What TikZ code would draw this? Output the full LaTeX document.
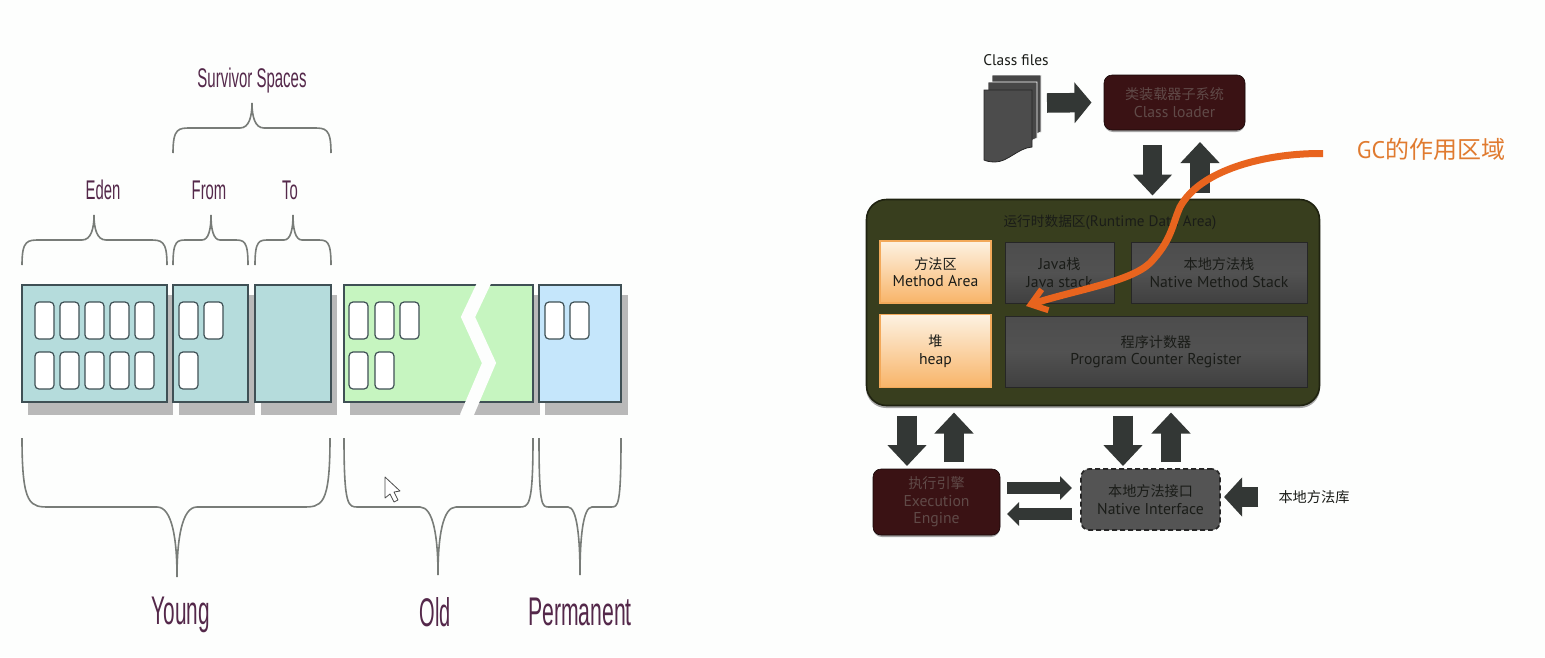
\documentclass[tikz,border=0pt]{standalone}
\usepackage{fontspec}
\usepackage{graphicx}
\setmainfont{PT Sans}
\newfontfamily\arialf{Liberation Sans}
\newfontfamily\cjk[Scale=0.9]{Noto Sans CJK SC}
\newfontfamily\cjkfull{Noto Sans CJK SC}
\usetikzlibrary{arrows.meta,calc}
\definecolor{bgc}{HTML}{FDFEFD}
\definecolor{teal}{HTML}{B5DCDC}
\definecolor{greenf}{HTML}{C6F5C0}
\definecolor{bluef}{HTML}{C5E6FB}
\definecolor{shadowc}{HTML}{B9B9B9}
\definecolor{edgec}{HTML}{3F5055}
\definecolor{plum}{HTML}{54284A}
\definecolor{bracec}{HTML}{787C78}
\definecolor{blockc}{HTML}{333735}
\definecolor{maroon}{HTML}{3A1214}
\definecolor{dimtext}{HTML}{604A48}
\definecolor{olivef}{HTML}{383E1E}
\definecolor{orangec}{HTML}{E8641E}
\definecolor{orangetext}{HTML}{E07B30}
\definecolor{darktext}{HTML}{1A1C18}
\definecolor{peachtop}{HTML}{FDF2E2}
\definecolor{peachbot}{HTML}{F8B468}
\definecolor{peachedge}{HTML}{F2A95A}
\newcommand\mybrace[8]{%
  \draw[bracestyle] (#1,#4) .. controls (#1,#5) and ({#1+0.3*#7},#5) .. ({#1+#7},#5)
    -- ({#3-#8},#5) .. controls ({#3-0.25*#8},#5) and (#3,{#5+0.45*(#6-#5)}) .. (#3,#6)
    .. controls (#3,{#5+0.45*(#6-#5)}) and ({#3+0.25*#8},#5) .. ({#3+#8},#5)
    -- ({#2-#7},#5) .. controls ({#2-0.3*#7},#5) and (#2,#5) .. (#2,#4);}
\newcommand\memcell[2]{\draw[cellbox] (#1,#2) rectangle ++(19,37);}
\tikzset{
  bracestyle/.style={draw=bracec,line width=1.6pt},
  cellbox/.style={draw=edgec,fill=white,line width=1.2pt,rounded corners=4pt},
  genbox/.style={draw=edgec,line width=1.3pt},
  shadowbox/.style={fill=shadowc},
  softshade/.style={fill=black!35,rounded corners=#1},
  biglabel/.style={text=plum,font=\arialf\fontsize{40}{44}\selectfont,inner sep=0pt},
  smalllabel/.style={text=plum,font=\arialf\fontsize{27}{30}\selectfont,inner sep=0pt},
  blockarrow/.style={draw=blockc,line width=19.5pt,-{Triangle[length=21pt,width=38pt]}},
  thinarrow/.style={draw=blockc,line width=12pt,-{Triangle[length=12pt,width=23pt]}},
  hwbox/.style={align=center,inner sep=0pt,outer sep=0pt,font=\fontsize{15.7}{17.5}\selectfont},
  orangebox/.style={hwbox,draw=peachedge,line width=1.5pt,top color=peachtop,bottom color=peachbot,text=darktext},
  greybox/.style={hwbox,draw=black!85,line width=1pt,top color=black!70,bottom color=black!75,middle color=black!68,text=darktext},
  maroonbox/.style={hwbox,fill=maroon,text=dimtext,rounded corners=8pt,draw=black!60!maroon,line width=.6pt},
}
\begin{document}
\begin{tikzpicture}[x=1pt,y=-1pt]
\useasboundingbox (0,0) rectangle (1545,657);
\fill[bgc] (0,0) rectangle (1545,657);
% shadows
\fill[shadowbox] (28,295) rectangle (173,415);
\fill[shadowbox] (179,295) rectangle (255,415);
\fill[shadowbox] (261,295) rectangle (337,415);
\fill[shadowbox] (350,295) rectangle (540,415);
\fill[shadowbox] (545,295) rectangle (628,415);
% generation boxes
\draw[genbox,fill=teal] (22,285) rectangle (167,402);
\draw[genbox,fill=teal] (173,285) rectangle (248,402);
\draw[genbox,fill=teal] (255,285) rectangle (331,402);
\draw[genbox,fill=greenf] (344,285) rectangle (533,402);
\draw[genbox,fill=bluef] (539,285) rectangle (621,402);
% cells
\foreach \cx in {35,60,85,110,135}{\memcell{\cx}{302}\memcell{\cx}{352}}
\memcell{179}{302}\memcell{204}{302}\memcell{179}{352}
\memcell{349}{302}\memcell{375}{302}\memcell{400}{302}\memcell{349}{352}\memcell{375}{352}
\memcell{545}{302}\memcell{570}{302}
% break in old
\draw[bgc,line width=13pt,line join=miter] (485,281) -- (468,317) -- (489,363) -- (466,417);
% braces
\mybrace{22}{167}{94}{265}{240}{215}{18}{12}
\mybrace{173}{248}{211}{265}{240}{215}{14}{9}
\mybrace{255}{331}{293}{265}{240}{215}{14}{9}
\mybrace{173}{331}{252}{153}{128}{103}{18}{12}
\mybrace{22}{330}{177}{438}{507}{577}{28}{20}
\mybrace{344}{533}{438}{438}{507}{575}{14}{18}
\mybrace{539}{621}{580}{438}{507}{575}{10}{12}
% left labels
\node[smalllabel] (survivor) at (252,80.5) {\scalebox{.555}[1]{Survivor Spaces}};
\node[smalllabel] (eden) at (103,190) {\scalebox{.55}[1]{Eden}};
\node[smalllabel] (from) at (209,190) {\scalebox{.55}[1]{From}};
\node[smalllabel] (to) at (290,190) {\scalebox{.55}[1]{To}};
\node[biglabel] (young) at (181,615) {\scalebox{.52}[1]{Young}};
\node[biglabel] (old) at (435,612) {\scalebox{.5}[1]{Old}};
\node[biglabel] (permanent) at (580,612) {\scalebox{.53}[1]{Permanent}};
% cursor
\draw[black!70,fill=white,line width=.8pt,line join=round] (385,477) -- (385,498) -- (390,494) -- (394,502) -- (398,500) -- (394,492) -- (400,491) -- cycle;
% class files
\node[inner sep=0pt,font=\fontsize{15.4}{17}\selectfont,text=darktext] (classfiles) at (1016,60.5) {Class files};
\coordinate (filesE) at (1041,103);
\draw[white,line width=.6pt,fill=black!72] (992,75) -- (1041,75) -- (1041,132) -- (1020,140) -- (992,150) -- cycle;
\draw[white,line width=.6pt,fill=black!72] (988,82) -- (1037,82) -- (1037,138) -- (1020,146) -- (988,156) -- cycle;
\draw[black!85,line width=.8pt,fill=black!70] (984,90) -- (1032,90) -- (1032,147) .. controls (1018,148) and (1008,162) .. (995,162) .. controls (990,162) and (986,161) .. (984,160) -- cycle;
% soft shades below the dark boxes
\fill[softshade=9pt] (1104,78) rectangle (1245,132);
\fill[softshade=20pt] (866,205) rectangle (1320,408);
\fill[softshade=9pt] (873,472) rectangle (1000,537);
% loader
\node[maroonbox,minimum width=141pt,minimum height=55pt] (loader) at (1174.5,102.5) {{\cjk 类装载器子系统}\\Class loader};
% runtime
\node[draw=black!45!olivef,fill=olivef,line width=1.6pt,rounded corners=20pt,minimum width=453pt,minimum height=206pt,inner sep=0pt,outer sep=0pt] (runtime) at (1093,302.5) {};
\node[inner sep=0pt,font=\fontsize{15.2}{17}\selectfont,text=darktext] (rtitle) at (1110,222) {{\cjk 运行时数据区}(Runtime Data Area)};
\node[orangebox,minimum width=111pt,minimum height=62pt] (method) at (935.5,272) {{\cjk 方法区}\\Method Area};
\node[orangebox,minimum width=111pt,minimum height=73pt] (heap) at (935.5,351) {{\cjk 堆}\\heap};
\node[greybox,minimum width=109pt,minimum height=61pt] (jstack) at (1059.5,272.5) {Java{\cjk 栈}\\Java stack};
\node[greybox,minimum width=176pt,minimum height=61pt] (nstack) at (1219,272.5) {{\cjk 本地方法栈}\\Native Method Stack};
\node[greybox,minimum width=302pt,minimum height=71pt] (pc) at (1156,351.5) {{\cjk 程序计数器}\\Program Counter Register};
% engine, native
\node[maroonbox,minimum width=127pt,minimum height=66pt] (engine) at (936.5,502) {{\cjk 执行引擎}\\Execution\\Engine};
\node[hwbox,draw=black!85,dash pattern=on 5pt off 3pt,line width=1.6pt,fill=black!67,rounded corners=8pt,text=darktext,minimum width=139pt,minimum height=61pt] (native) at (1150.5,499.5) {{\cjk 本地方法接口}\\Native Interface};
\node[inner sep=0pt,font=\cjkfull\fontsize{14.2}{16}\selectfont,text=darktext] (nlib) at (1314,497) {本地方法库};
% block arrows
\draw[blockarrow,-{Triangle[length=17pt,width=40pt]}] (filesE) ++(6,0) -- ([xshift=-12.5pt]loader.west);
\draw[blockarrow] ([shift={(-22,15)}]loader.south) -- ([shift={(59.5,-4)}]runtime.north);
\draw[blockarrow] ([shift={(107,-7)}]runtime.north) -- ([shift={(25.5,12)}]loader.south);
\draw[blockarrow] ([shift={(-186,10)}]runtime.south) -- ([shift={(-29.5,-3)}]engine.north);
\draw[blockarrow] ([shift={(17.5,-7)}]engine.north) -- ([shift={(-139,7)}]runtime.south);
\draw[blockarrow] ([shift={(30,10)}]runtime.south) -- ([shift={(-27.5,-3)}]native.north);
\draw[blockarrow] ([shift={(20.5,-7)}]native.north) -- ([shift={(78,7)}]runtime.south);
\draw[thinarrow] ([shift={(7,-14)}]engine.east) -- ([shift={(-9,-11.5)}]native.west);
\draw[thinarrow] ([shift={(-9,14.5)}]native.west) -- ([shift={(7,12)}]engine.east);
\draw[blockarrow,-{Triangle[length=18pt,width=38pt]}] ([shift={(-20,0)}]nlib.west) -- ([shift={(4,-2.5)}]native.east);
% orange GC
\node[inner sep=0pt,text=orangetext,font=\fontsize{24}{28}\selectfont] (gc) at (1431,149) {GC{\cjkfull 的作用区域}};
\coordinate (gcstart) at (1323,153.5);
\coordinate (gcend) at (1026,306);
\draw[orangec,line width=7pt,line cap=butt,-{Straight Barb[length=15pt,width=22pt,line width=6pt]}] (gcstart) .. controls (1265,153) and (1200,170) .. (1180,207) .. controls (1172,225) and (1172,240) .. (1150,263) .. controls (1130,282) and (1075,290) .. (gcend);
\end{tikzpicture}
\end{document}
